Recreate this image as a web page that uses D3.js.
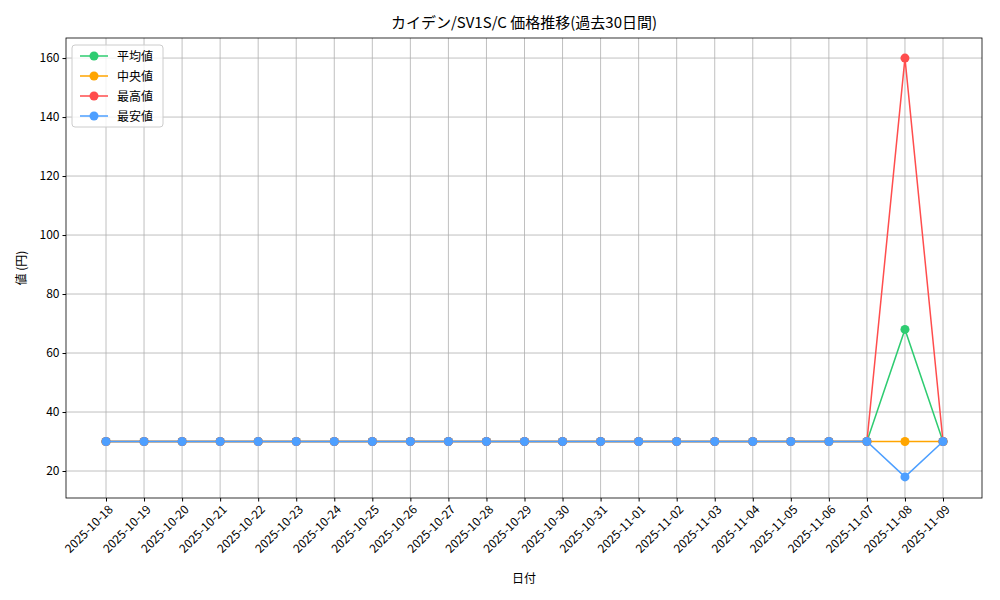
<!DOCTYPE html>
<html><head><meta charset="utf-8">
<script src="https://cdn.jsdelivr.net/npm/d3@7"></script>
<style>body{margin:0;background:#fff;font-family:"Noto Sans CJK JP","DejaVu Sans",sans-serif;}</style>
</head><body><svg id="c" width="1000" height="600"></svg>
<script>
const dates=["2025-10-18","2025-10-19","2025-10-20","2025-10-21","2025-10-22","2025-10-23","2025-10-24","2025-10-25","2025-10-26","2025-10-27","2025-10-28","2025-10-29","2025-10-30","2025-10-31","2025-11-01","2025-11-02","2025-11-03","2025-11-04","2025-11-05","2025-11-06","2025-11-07","2025-11-08","2025-11-09"];
const avgVals=[30,30,30,30,30,30,30,30,30,30,30,30,30,30,30,30,30,30,30,30,30,68,30];
const medVals=[30,30,30,30,30,30,30,30,30,30,30,30,30,30,30,30,30,30,30,30,30,30,30];
const maxVals=[30,30,30,30,30,30,30,30,30,30,30,30,30,30,30,30,30,30,30,30,30,160,30];
const minVals=[30,30,30,30,30,30,30,30,30,30,30,30,30,30,30,30,30,30,30,30,30,18,30];
const yTicks=[20,40,60,80,100,120,140,160];
const series=[{name:"平均値",v:avgVals,c:"#2ecc71"},{name:"中央値",v:medVals,c:"#ffa500"},{name:"最高値",v:maxVals,c:"#ff4d4d"},{name:"最安値",v:minVals,c:"#4d9fff"}];
const L=66,R=982,T=38,B=498;
const svg=d3.select("#c");
const x=d3.scalePoint().domain(dates).range([106,943]);
const y=d3.scaleLinear().domain([10.85,166.8]).range([B,T]);
const g=svg.append("g");
g.selectAll(".gx").data(dates).enter().append("line").attr("x1",d=>x(d)).attr("x2",d=>x(d)).attr("y1",T).attr("y2",B).attr("stroke","#b0b0b0").attr("stroke-width",0.8);
g.selectAll(".gy").data(yTicks).enter().append("line").attr("x1",L).attr("x2",R).attr("y1",d=>y(d)).attr("y2",d=>y(d)).attr("stroke","#b0b0b0").attr("stroke-width",0.8);
svg.append("rect").attr("x",L).attr("y",T).attr("width",R-L).attr("height",B-T).attr("fill","none").attr("stroke","#000").attr("stroke-width",0.8);
const xa=svg.append("g").attr("transform",`translate(0,${B})`).call(d3.axisBottom(x).tickSizeOuter(0).tickSize(3.5));
xa.select(".domain").remove();
xa.selectAll("text").attr("font-size",12).attr("fill","#000").attr("text-anchor","end").attr("transform","rotate(-45)").attr("dx","-0.3em").attr("dy","0.6em").style("font-family","Noto Sans CJK JP");
const ya=svg.append("g").attr("transform",`translate(${L},0)`).call(d3.axisLeft(y).tickValues(yTicks).tickSize(3.5).tickSizeOuter(0));
ya.select(".domain").remove();
ya.selectAll("text").attr("font-size",12).attr("fill","#000").style("font-family","Noto Sans CJK JP");
const line=d3.line().x((d,i)=>x(dates[i])).y(d=>y(d));
series.forEach(s=>{
 svg.append("path").attr("d",line(s.v)).attr("fill","none").attr("stroke",s.c).attr("stroke-width",1.5);
 svg.selectAll(null).data(s.v).enter().append("circle").attr("cx",(d,i)=>x(dates[i])).attr("cy",d=>y(d)).attr("r",4.5).attr("fill",s.c);
});
svg.append("text").attr("x",(L+R)/2).attr("y",28).attr("text-anchor","middle").attr("font-size",15).text("カイデン/SV1S/C 価格推移(過去30日間)");
svg.append("text").attr("x",(L+R)/2).attr("y",583).attr("text-anchor","middle").attr("font-size",12).text("日付");
svg.append("text").attr("transform",`translate(26,${(T+B)/2}) rotate(-90)`).attr("text-anchor","middle").attr("font-size",12).text("値 (円)");
const lg=svg.append("g").attr("transform","translate(72,45)");
lg.append("rect").attr("width",91).attr("height",82).attr("rx",3).attr("fill","#fff").attr("fill-opacity",0.8).attr("stroke","#ccc");
series.forEach((s,i)=>{
 const yy=11+i*20;
 lg.append("line").attr("x1",8).attr("x2",36).attr("y1",yy).attr("y2",yy).attr("stroke",s.c).attr("stroke-width",1.5);
 lg.append("circle").attr("cx",22).attr("cy",yy).attr("r",4.5).attr("fill",s.c);
 lg.append("text").attr("x",45).attr("y",yy+4.5).attr("font-size",12).text(s.name);
});
</script></body></html>
